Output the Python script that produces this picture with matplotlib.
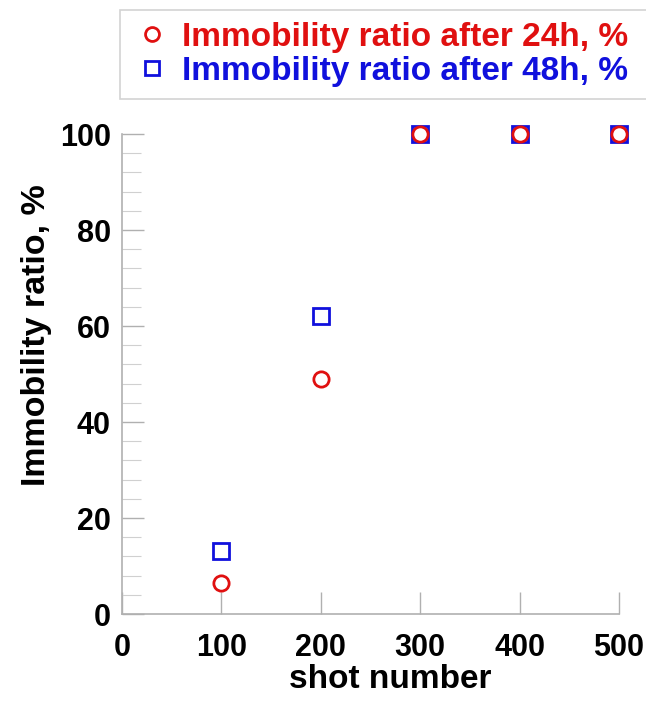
import matplotlib.pyplot as plt
from matplotlib.ticker import MultipleLocator

plt.rcParams['font.family'] = 'Liberation Sans'
plt.rcParams['font.weight'] = 'bold'

shots = [100, 200, 300, 400, 500]
ratio_24h = [6.5, 49, 100, 100, 100]
ratio_48h = [13.2, 62, 100, 100, 100]

fig = plt.figure(figsize=(6.46, 7.01), dpi=100)
ax = fig.add_axes([122/646, 87/701, 497/646, 480/701])

ax.plot(shots, ratio_48h, 's', ms=12, mfc='none', mec='#1010dd', mew=2,
        clip_on=False, label='Immobility ratio after 48h, %')
ax.plot(shots, ratio_24h, 'o', ms=11, mfc='none', mec='#e01010', mew=2,
        clip_on=False, label='Immobility ratio after 24h, %')

ax.set_xlim(0, 500)
ax.set_ylim(0, 100)
ax.xaxis.set_major_locator(MultipleLocator(100))
ax.yaxis.set_major_locator(MultipleLocator(20))
ax.yaxis.set_minor_locator(MultipleLocator(4))
for s in ['top', 'right']:
    ax.spines[s].set_visible(False)
for s in ['left', 'bottom']:
    ax.spines[s].set_color('#b0b0b0')
    ax.spines[s].set_linewidth(1.2)
ax.tick_params(which='major', direction='in', length=16, width=1, color='#b0b0b0',
               labelsize=22, pad=8)
ax.tick_params(which='minor', direction='in', length=14, width=0.8, color='#d0d0d0')
ax.tick_params(axis='x', pad=14)
ax.set_xlabel('shot number', fontsize=24, fontweight='bold')
ax.set_ylabel('Immobility ratio, %', fontsize=24.5, fontweight='bold')
ax.xaxis.set_label_coords(0.54, -0.105)
ax.yaxis.set_label_coords(-0.14, 0.58)

h, l = ax.get_legend_handles_labels()
leg = fig.legend(h[::-1], l[::-1], loc='upper left',
                 bbox_to_anchor=(120/646, 1 - 10/701, 0.9, 0), mode='expand',
                 fontsize=24, frameon=True, fancybox=False, edgecolor='#c8c8c8',
                 borderpad=0.35, borderaxespad=0, handlelength=1.2,
                 handletextpad=0.3, labelspacing=0.1)
leg.get_frame().set_linewidth(1.2)
for t, c in zip(leg.get_texts(), ['#e01010', '#1010dd']):
    t.set_color(c)
for lh in leg.legend_handles:
    lh.set_markersize(10)

fig.savefig('out.png', dpi=100)
